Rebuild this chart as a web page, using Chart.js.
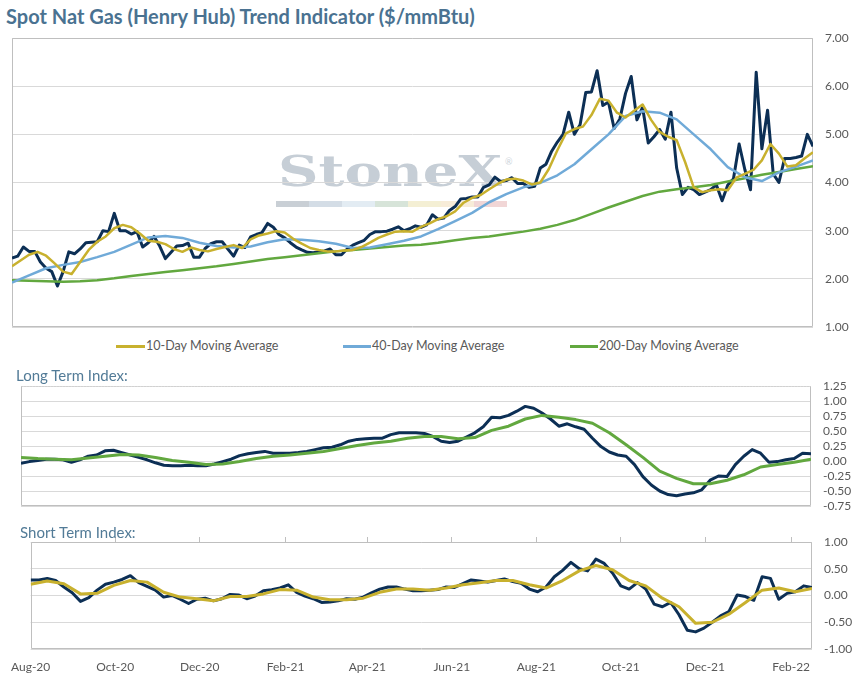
<!DOCTYPE html>
<html lang="en">
<head>
<meta charset="utf-8" />
<title>Spot Nat Gas (Henry Hub) Trend Indicator</title>
<script src="https://cdn.jsdelivr.net/npm/chart.js@4.4.1/dist/chart.umd.min.js"></script>
<style type="text/css">
  body {
    margin: 0;
    width: 866px;
    height: 677px;
    position: relative;
    overflow: hidden;
    background: #ffffff;
    font-family: Lato, "Open Sans", sans-serif;
  }
  .abs { position: absolute; }
  canvas { position: absolute; z-index: 2; }
  #title {
    left: 6px; top: 4px;
    font-size: 20px; line-height: 24px; font-weight: bold;
    color: #4a7291; white-space: nowrap;
  }
  .section {
    font-size: 15px; line-height: 18px; color: #527b97; white-space: nowrap; z-index: 3;
  }
  #longLabel { left: 16px; top: 366px; }
  #shortLabel { left: 20px; top: 523px; }
  .legendItem { font-size: 12.5px; line-height: 16px; color: #595959; white-space: nowrap; top: 338px; }
  .swatch { height: 3px; top: 345px; }
  #watermark {
    left: 278px; top: 151px; z-index: 1;
    font-family: "DejaVu Serif", "Liberation Serif", serif;
    font-weight: bold; font-size: 42px; line-height: 42px;
    color: #c6ced6; white-space: nowrap; transform-origin: 0 0;
  }
  #wmReg { left: 505px; top: 156px; z-index: 1; font-size: 9px; color: #cdd4db; }
  #wmBar { left: 276px; top: 201px; height: 6px; z-index: 1; display: flex; }
  #wmBar span { width: 33px; height: 6px; display: block; }
</style>
</head>
<body>

<div id="title" class="abs">Spot Nat Gas (Henry Hub) Trend Indicator ($/mmBtu)</div>

<div id="watermark" class="abs">StoneX</div>
<div id="wmReg" class="abs">®</div>
<div id="wmBar" class="abs">
  <span style="background:#c9cfd5"></span><span style="background:#d4dde6"></span><span style="background:#e3ecf3"></span><span style="background:#d7e4d9"></span><span style="background:#f4efd4"></span><span style="background:#f7ecd8"></span><span style="background:#f1d6d6"></span>
</div>

<canvas id="priceChart" width="866" height="309" style="left:0px; top:28px; width:866px; height:309px;"></canvas>

<div class="abs swatch" style="left:116px; width:29px; background:#c8b12e;"></div>
<div class="abs legendItem" style="left:146px;">10-Day Moving Average</div>
<div class="abs swatch" style="left:343px; width:28px; background:#70aad8;"></div>
<div class="abs legendItem" style="left:372px;">40-Day Moving Average</div>
<div class="abs swatch" style="left:570px; width:28px; background:#62a83f;"></div>
<div class="abs legendItem" style="left:599px;">200-Day Moving Average</div>

<div id="longLabel" class="abs section">Long Term Index:</div>
<canvas id="longChart" width="866" height="140" style="left:0px; top:376px; width:866px; height:140px;"></canvas>

<div id="shortLabel" class="abs section">Short Term Index:</div>
<canvas id="shortChart" width="866" height="145" style="left:0px; top:532px; width:866px; height:145px;"></canvas>

<script>
  // x positions are days since 1 Aug 2020
  var lastDay = 564;
  var tickDays = [0, 61, 122, 184, 243, 304, 365, 426, 487, 549];
  var tickLabels = ['Aug-20', 'Oct-20', 'Dec-20', 'Feb-21', 'Apr-21', 'Jun-21', 'Aug-21', 'Oct-21', 'Dec-21', 'Feb-22'];

  // spot price, one reading every 4 days
  var spotStep = 4;
  var spotPrice = [
    2.43, 2.47, 2.66, 2.57, 2.57, 2.35, 2.22, 2.15, 1.85, 2.15,
    2.56, 2.52, 2.62, 2.75, 2.76, 2.77, 3.00, 2.98, 3.36, 3.00,
    3.00, 2.93, 2.98, 2.66, 2.75, 2.88, 2.68, 2.42, 2.55, 2.68,
    2.69, 2.74, 2.45, 2.45, 2.63, 2.73, 2.77, 2.77, 2.62, 2.47,
    2.70, 2.65, 2.87, 2.92, 2.96, 3.15, 3.07, 2.92, 2.85, 2.75,
    2.66, 2.60, 2.55, 2.54, 2.56, 2.58, 2.62, 2.50, 2.50, 2.62,
    2.70, 2.75, 2.80, 2.92, 2.98, 2.98, 2.99, 3.03, 3.08, 3.00,
    3.04, 3.10, 3.07, 3.12, 3.33, 3.24, 3.26, 3.42, 3.50, 3.66,
    3.67, 3.70, 3.70, 3.90, 3.95, 4.11, 4.02, 4.04, 4.10, 3.98,
    3.98, 3.90, 3.92, 4.30, 4.38, 4.65, 4.84, 5.00, 5.46, 5.00,
    5.20, 5.87, 5.88, 6.32, 5.60, 5.67, 5.12, 5.32, 5.85, 6.20,
    5.30, 5.56, 4.82, 4.95, 5.10, 4.90, 5.46, 4.30, 3.75, 3.90,
    3.85, 3.75, 3.80, 3.85, 3.95, 3.62, 3.95, 4.08, 4.80, 4.27,
    3.85, 6.29, 4.70, 5.50, 4.18, 4.00, 4.50, 4.50, 4.52, 4.55,
    5.00, 4.75
  ];

  // faster lines, one reading every 6 days
  var fastStep = 6;
  var ma10 = [
    2.26, 2.38, 2.50, 2.56, 2.48, 2.32, 2.15, 2.10, 2.35, 2.60,
    2.77, 2.88, 3.05, 3.12, 3.07, 2.94, 2.79, 2.77, 2.72, 2.62,
    2.56, 2.65, 2.60, 2.57, 2.62, 2.66, 2.70, 2.64, 2.82, 2.90,
    2.94, 2.99, 2.96, 2.83, 2.73, 2.64, 2.60, 2.57, 2.57, 2.59,
    2.60, 2.66, 2.75, 2.85, 2.92, 2.98, 2.99, 2.98, 3.08, 3.15,
    3.24, 3.30, 3.40, 3.58, 3.68, 3.74, 3.86, 3.97, 4.06, 4.08,
    4.04, 3.96, 4.00, 4.28, 4.67, 5.02, 5.11, 5.16, 5.40, 5.74,
    5.70, 5.45, 5.35, 5.49, 5.62, 5.30, 5.05, 4.95, 4.88, 4.42,
    3.90, 3.80, 3.84, 3.86, 3.84, 4.10, 4.18, 4.26, 4.46, 4.80,
    4.60, 4.33, 4.36, 4.50, 4.63
  ];
  var longIndex = [
    -0.04, -0.01, 0.01, 0.03, 0.03, 0.02, -0.02, 0.02, 0.08, 0.10,
    0.17, 0.18, 0.14, 0.10, 0.06, 0.02, -0.03, -0.07, -0.08, -0.08,
    -0.07, -0.08, -0.08, -0.05, -0.01, 0.03, 0.09, 0.12, 0.14, 0.16,
    0.13, 0.13, 0.13, 0.14, 0.16, 0.19, 0.22, 0.23, 0.27, 0.33,
    0.36, 0.37, 0.38, 0.38, 0.44, 0.47, 0.47, 0.47, 0.46, 0.41,
    0.33, 0.31, 0.33, 0.40, 0.47, 0.57, 0.73, 0.72, 0.76, 0.83,
    0.91, 0.88, 0.80, 0.70, 0.58, 0.62, 0.57, 0.53, 0.38, 0.24,
    0.15, 0.10, 0.08, -0.06, -0.26, -0.40, -0.50, -0.56, -0.58, -0.55,
    -0.53, -0.48, -0.32, -0.25, -0.26, -0.06, 0.08, 0.19, 0.13, -0.02,
    -0.01, 0.02, 0.04, 0.13, 0.12
  ];
  var shortIndex = [
    0.29, 0.29, 0.32, 0.28, 0.16, 0.05, -0.11, -0.04, 0.10, 0.21,
    0.25, 0.30, 0.37, 0.24, 0.17, 0.10, -0.03, 0.00, -0.07, -0.15,
    -0.07, -0.05, -0.10, -0.06, 0.02, 0.01, -0.06, -0.01, 0.09, 0.11,
    0.14, 0.20, 0.06, -0.01, -0.06, -0.13, -0.12, -0.10, -0.06, -0.07,
    -0.03, 0.05, 0.12, 0.16, 0.16, 0.12, 0.09, 0.09, 0.10, 0.11,
    0.16, 0.15, 0.22, 0.29, 0.27, 0.25, 0.28, 0.31, 0.26, 0.23,
    0.12, 0.07, 0.16, 0.35, 0.47, 0.62, 0.50, 0.46, 0.68, 0.60,
    0.42, 0.18, 0.12, 0.24, 0.12, -0.16, -0.21, -0.13, -0.36, -0.65,
    -0.68, -0.61, -0.50, -0.38, -0.30, 0.01, -0.02, -0.09, 0.35, 0.32,
    -0.07, 0.04, 0.07, 0.18, 0.15
  ];

  // slower lines, one reading every 12 days
  var slowStep = 12;
  var ma40 = [
    1.92, 2.07, 2.22, 2.29, 2.35, 2.45, 2.56, 2.71, 2.86, 2.89,
    2.85, 2.75, 2.68, 2.65, 2.67, 2.76, 2.82, 2.81, 2.78, 2.73,
    2.64, 2.65, 2.72, 2.79, 2.88, 3.03, 3.20, 3.37, 3.59, 3.76,
    3.90, 3.99, 4.15, 4.38, 4.69, 5.00, 5.38, 5.48, 5.45, 5.31,
    5.00, 4.69, 4.32, 4.11, 4.03, 4.21, 4.33, 4.46
  ];
  var ma200 = [
    1.97, 1.96, 1.95, 1.94, 1.95, 1.97, 2.01, 2.06, 2.10, 2.14,
    2.18, 2.22, 2.26, 2.31, 2.36, 2.41, 2.45, 2.49, 2.53, 2.57,
    2.60, 2.63, 2.66, 2.69, 2.71, 2.75, 2.80, 2.85, 2.88, 2.93,
    2.98, 3.04, 3.12, 3.22, 3.35, 3.48, 3.60, 3.72, 3.81, 3.86,
    3.90, 3.95, 4.02, 4.09, 4.16, 4.22, 4.28, 4.34
  ];
  var longSignal = [
    0.06, 0.04, 0.03, 0.02, 0.05, 0.08, 0.11, 0.10, 0.06, 0.01,
    -0.02, -0.06, -0.05, -0.01, 0.04, 0.08, 0.10, 0.13, 0.16, 0.21,
    0.26, 0.30, 0.33, 0.38, 0.41, 0.41, 0.37, 0.39, 0.51, 0.58,
    0.70, 0.76, 0.73, 0.69, 0.63, 0.47, 0.27, 0.06, -0.17, -0.29,
    -0.38, -0.38, -0.32, -0.23, -0.10, -0.06, -0.02, 0.03
  ];
  var shortSignal = [
    0.21, 0.27, 0.22, 0.03, 0.04, 0.19, 0.28, 0.25, 0.06, -0.03,
    -0.06, -0.10, -0.02, -0.02, 0.03, 0.11, 0.10, -0.03, -0.08, -0.08,
    -0.05, 0.06, 0.12, 0.12, 0.10, 0.14, 0.20, 0.24, 0.28, 0.28,
    0.20, 0.14, 0.28, 0.46, 0.56, 0.48, 0.28, 0.18, -0.05, -0.21,
    -0.52, -0.50, -0.35, -0.13, 0.10, 0.14, 0.07, 0.13
  ];

  var NAVY = '#0c2f55', GOLD = '#c8b12e', BLUE = '#70aad8', GREEN = '#62a83f';

  // stretch the watermark to the width it has in the original
  (function () {
    var wm = document.getElementById('watermark');
    var m = document.createElement('canvas').getContext('2d');
    m.font = 'bold 42px "DejaVu Serif"';
    var w = m.measureText('StoneX').width;
    wm.style.transform = 'scaleX(' + (224 / w).toFixed(3) + ')';
  })();

  Chart.defaults.font.family = 'Lato, "Open Sans", sans-serif';
  Chart.defaults.font.size = 12;
  Chart.defaults.color = '#595959';

  function points(vals, step) {
    return vals.map(function (v, i) { return { x: i * step, y: v }; });
  }

  function line(label, vals, step, color, width) {
    return {
      label: label,
      data: points(vals, step),
      borderColor: color,
      backgroundColor: color,
      borderWidth: width,
      borderJoinStyle: 'round',
      pointRadius: 0,
      tension: 0,
      fill: false
    };
  }

  // grey frame round the plot area (top edge dotted on request)
  var plotFrame = {
    id: 'plotFrame',
    beforeDatasetsDraw: function (chart, args, opts) {
      var a = chart.chartArea, ctx = chart.ctx;
      var l = Math.round(a.left) + 0.5, r = Math.round(a.right) - 0.5;
      var t = Math.round(a.top) + 0.5, b = Math.round(a.bottom) - 0.5;
      ctx.save();
      ctx.strokeStyle = '#bfbfbf';
      ctx.lineWidth = 1;
      ctx.beginPath();
      ctx.moveTo(l, t); ctx.lineTo(l, b); ctx.lineTo(r, b); ctx.lineTo(r, t);
      ctx.stroke();
      if (opts.dottedTop) {
        ctx.strokeStyle = '#c8c8c8';
        ctx.setLineDash([1, 2]);
      }
      ctx.beginPath();
      ctx.moveTo(l, t); ctx.lineTo(r, t);
      ctx.stroke();
      ctx.restore();
    }
  };

  function yAxis(min, max, step, width) {
    return {
      position: 'right',
      min: min, max: max,
      ticks: {
        stepSize: step, padding: 1, autoSkip: false,
        callback: function (v) { return Number(v).toFixed(2); }
      },
      grid: { color: '#d9d9d9', drawTicks: true, tickLength: 11, tickColor: 'rgba(0,0,0,0)' },
      border: { display: false },
      afterFit: function (s) { s.width = width; }
    };
  }

  function options(yScale, padding, xScales, frame) {
    return {
      responsive: false,
      animation: false,
      events: [],
      layout: { padding: padding },
      plugins: { legend: { display: false }, tooltip: { enabled: false }, plotFrame: frame || {} },
      scales: Object.assign({ y: yScale }, xScales)
    };
  }

  var hiddenX = { x: { type: 'linear', min: 0, max: lastDay, display: false } };

  new Chart(document.getElementById('priceChart').getContext('2d'), {
    type: 'line',
    data: {
      datasets: [
        line('10-Day Moving Average', ma10, fastStep, GOLD, 2.5),
        line('40-Day Moving Average', ma40, slowStep, BLUE, 2.5),
        line('200-Day Moving Average', ma200, slowStep, GREEN, 2.5),
        line('Spot', spotPrice, spotStep, NAVY, 3)
      ]
    },
    options: options(yAxis(1, 7, 1, 53), { left: 12, top: 10, bottom: 10, right: 0 }, hiddenX),
    plugins: [plotFrame]
  });

  new Chart(document.getElementById('longChart').getContext('2d'), {
    type: 'line',
    data: {
      datasets: [
        line('Long Term Signal', longSignal, slowStep, GREEN, 3),
        line('Long Term Index', longIndex, fastStep, NAVY, 3)
      ]
    },
    options: options(yAxis(-0.75, 1.25, 0.25, 55), { left: 21, top: 10, bottom: 10, right: 0 }, hiddenX, { dottedTop: true }),
    plugins: [plotFrame]
  });

  new Chart(document.getElementById('shortChart').getContext('2d'), {
    type: 'line',
    data: {
      datasets: [
        line('Short Term Signal', shortSignal, slowStep, GOLD, 3),
        line('Short Term Index', shortIndex, fastStep, NAVY, 3)
      ]
    },
    options: options(yAxis(-1, 1, 0.5, 54), { left: 23, top: 5, bottom: 4, right: 0 }, {
      x: {
        type: 'linear', min: 0, max: lastDay, position: 'bottom',
        afterBuildTicks: function (s) { s.ticks = tickDays.map(function (d) { return { value: d }; }); },
        ticks: {
          autoSkip: false, maxRotation: 0, padding: 11,
          callback: function (v, i) { return tickLabels[i]; }
        },
        grid: { display: false, drawTicks: false },
        border: { display: false },
        afterFit: function (s) { s.height = 24; }
      },
      xTop: {
        type: 'linear', min: 0, max: lastDay, position: 'top',
        afterBuildTicks: function (s) { s.ticks = tickDays.slice(1).map(function (d) { return { value: d }; }); },
        ticks: { display: false },
        grid: { drawOnChartArea: false, drawTicks: true, tickLength: 5, color: '#bfbfbf' },
        border: { display: false }
      }
    }),
    plugins: [plotFrame]
  });
</script>

</body>
</html>
